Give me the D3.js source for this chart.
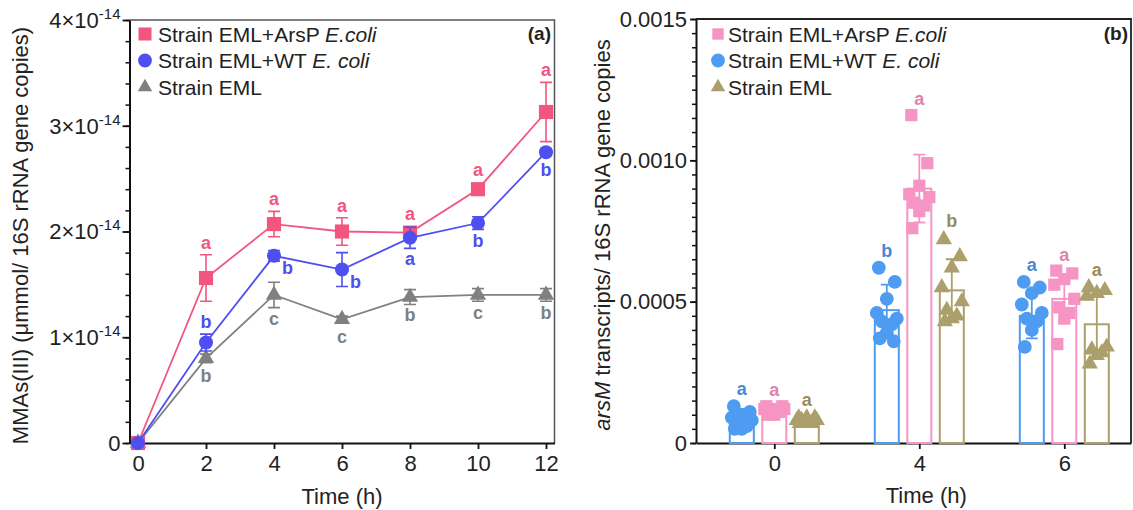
<!DOCTYPE html>
<html><head><meta charset="utf-8">
<script src="https://cdn.jsdelivr.net/npm/d3@7"></script>
<style>body{margin:0;background:#fff} svg{display:block} text{font-family:"Liberation Sans",Arial,Helvetica,sans-serif}</style>
</head><body><svg id="c" width="1133" height="510"></svg>
<script>
// ---------- Panel (a) data (values ×1e-14) ----------
const timesA = [0, 2, 4, 6, 8, 10, 12];
const arsPMean = [0, 1.56, 2.07, 2.00, 1.99, 2.40, 3.13];
const arsPSd   = [0, 0.22, 0.12, 0.13, 0.05, 0.04, 0.28];
const arsPLetters = ["", "a", "a", "a", "a", "a", "a"];
const arsPLetterPos = ["", "above", "above", "above", "above", "above", "above"];
const wtMean = [0, 0.95, 1.77, 1.64, 1.94, 2.08, 2.75];
const wtSd   = [0, 0.08, 0.05, 0.16, 0.10, 0.06, 0.03];
const wtLetters = ["", "b", "b", "b", "a", "b", "b"];
const wtLetterPos = ["", "above", "right", "right", "below", "below", "below"];
const emlMean = [0, 0.80, 1.40, 1.17, 1.38, 1.40, 1.40];
const emlSd   = [0, 0.04, 0.12, 0.03, 0.07, 0.06, 0.06];
const emlLetters = ["", "b", "c", "c", "b", "c", "b"];
const emlLetterPos = ["", "below", "below", "below", "below", "below", "below"];
const yTicksA = [0, 1, 2, 3, 4];
const legendA = [["Strain EML+ArsP ", "E.coli"], ["Strain EML+WT ", "E. coli"], ["Strain EML", ""]];

// ---------- Panel (b) data ----------
const timesB = ["0", "4", "6"];
const wtPts = [
  [0.00013, 0.00011, 0.00010, 0.00009, 0.00008, 0.00007, 0.00006, 0.00005, 0.00005],
  [0.00062, 0.00057, 0.00051, 0.00046, 0.00044, 0.00043, 0.00042, 0.00039, 0.00037, 0.00036],
  [0.00057, 0.00055, 0.00053, 0.00049, 0.00046, 0.00044, 0.00043, 0.00040, 0.00034]
];
const arsPPts = [
  [0.00013, 0.00013, 0.00012, 0.00012, 0.00012, 0.00011, 0.00011, 0.00010, 0.00010],
  [0.00116, 0.00099, 0.00091, 0.00088, 0.00087, 0.00085, 0.00084, 0.00082, 0.00076],
  [0.00061, 0.00060, 0.00058, 0.00056, 0.00051, 0.00048, 0.00046, 0.00044, 0.00035]
];
const emlPts = [
  [0.00009, 0.00009, 0.00009, 0.00008, 0.00008, 0.00008, 0.00007, 0.00007, 0.00007],
  [0.00072, 0.00066, 0.00062, 0.00055, 0.00050, 0.00047, 0.00045, 0.00044, 0.00043],
  [0.00055, 0.00054, 0.00053, 0.00052, 0.00034, 0.00033, 0.00032, 0.00031, 0.00028]
];
const wtBar = [0.00008, 0.00047, 0.00045];
const arsPBar = [0.000115, 0.00090, 0.00051];
const emlBar = [0.00008, 0.00054, 0.00042];
const wtBarSd = [0.00003, 0.00009, 0.00008];
const arsPBarSd = [0.00001, 0.00012, 0.00008];
const emlBarSd = [0.00001, 0.00011, 0.00012];
const wtLettersB = ["a", "b", "a"];
const arsPLettersB = ["a", "a", "a"];
const emlLettersB = ["a", "b", "a"];
const yTicksB = [0, 0.0005, 0.0010, 0.0015];
const legendB = [["Strain EML+ArsP ", "E.coli"], ["Strain EML+WT ", "E. coli"], ["Strain EML", ""]];

const svg = d3.select("#c");
const TXT = "#222";

// ================= Panel (a) =================
const colA = {arsp: "#f2567f", wt: "#4f4ff0", eml: "#808080"};
const ax = d3.scaleLinear().domain([-0.25, 12.25]).range([129.5, 554.5]);
const ay = d3.scaleLinear().domain([0, 4]).range([443, 20]);
const gA = svg.append("g");

gA.append("path").attr("d", `M${ax.range()[0]},${ay(4)}H${ax.range()[1]}V${ay(0)}`)
  .attr("fill", "none").attr("stroke", "#555").attr("stroke-width", 1.5);

gA.append("g").attr("transform", `translate(${ax.range()[0]},0)`)
  .call(d3.axisLeft(ay).tickValues(d3.range(0, 4.001, 0.2)).tickSize(4).tickFormat("").tickSizeOuter(0))
  .call(g => g.selectAll("line").attr("stroke", "#111").attr("stroke-width", 1.5))
  .call(g => g.select(".domain").attr("stroke", "#111").attr("stroke-width", 2));
gA.append("g").attr("transform", `translate(${ax.range()[0]},0)`)
  .call(d3.axisLeft(ay).tickValues(yTicksA).tickSize(7).tickFormat("").tickSizeOuter(0))
  .call(g => g.selectAll("line").attr("stroke", "#111").attr("stroke-width", 1.8))
  .call(g => g.select(".domain").remove());
yTicksA.forEach(v => {
  const t = gA.append("text").attr("x", ax.range()[0] - 9).attr("y", ay(v)).attr("dy", "0.36em")
    .attr("text-anchor", "end").attr("font-size", 22).attr("fill", TXT);
  if (v === 0) t.text("0");
  else {
    t.append("tspan").text(v + "×10");
    t.append("tspan").attr("font-size", 15).attr("dy", -9).text("-14");
  }
});
gA.append("g").attr("transform", `translate(0,${ay(0)})`)
  .call(d3.axisBottom(ax).tickValues(timesA).tickSize(6).tickPadding(6).tickSizeOuter(0))
  .call(g => g.selectAll("line").attr("stroke", "#111").attr("stroke-width", 1.8))
  .call(g => g.select(".domain").attr("stroke", "#111").attr("stroke-width", 2))
  .call(g => g.selectAll("text").attr("font-size", 22).attr("fill", TXT).attr("font-family", '"Liberation Sans",Arial,sans-serif'));
gA.append("text").attr("x", ax(6)).attr("y", 504).attr("text-anchor", "middle")
  .attr("font-size", 22).attr("fill", TXT).text("Time (h)");
gA.append("text").attr("transform", `translate(28,${(ay(0) + ay(4)) / 2 + 4}) rotate(-90)`)
  .attr("text-anchor", "middle").attr("font-size", 22).attr("fill", TXT)
  .text("MMAs(III) (μmmol/ 16S rRNA gene copies)");
gA.append("text").attr("x", 551).attr("y", 40).attr("text-anchor", "end")
  .attr("font-size", 19).attr("font-weight", "bold").attr("fill", TXT).text("(a)");

const seriesA = [
  {key: "eml", mean: emlMean, sd: emlSd, letters: emlLetters, pos: emlLetterPos, sym: d3.symbolTriangle, size: 115},
  {key: "arsp", mean: arsPMean, sd: arsPSd, letters: arsPLetters, pos: arsPLetterPos, sym: d3.symbolSquare, size: 200},
  {key: "wt", mean: wtMean, sd: wtSd, letters: wtLetters, pos: wtLetterPos, sym: d3.symbolCircle, size: 155}
];
const line = d3.line().x(d => ax(d[0])).y(d => ay(d[1]));
seriesA.forEach(s => {
  const c = colA[s.key];
  const g = gA.append("g");
  g.append("path").attr("d", line(timesA.map((t, i) => [t, s.mean[i]])))
    .attr("fill", "none").attr("stroke", c).attr("stroke-width", 1.8);
  timesA.forEach((t, i) => {
    if (s.sd[i] > 0) {
      const x = ax(t), y1 = ay(s.mean[i] + s.sd[i]), y2 = ay(s.mean[i] - s.sd[i]);
      g.append("path").attr("d", `M${x},${y1}V${y2}M${x - 6},${y1}H${x + 6}M${x - 6},${y2}H${x + 6}`)
        .attr("stroke", c).attr("stroke-width", 1.6).attr("fill", "none");
    }
  });
  g.selectAll(".m").data(timesA).join("path")
    .attr("transform", (t, i) => `translate(${ax(t)},${ay(s.mean[i])})`)
    .attr("d", d3.symbol(s.sym, s.size)).attr("fill", c);
  timesA.forEach((t, i) => {
    if (!s.letters[i]) return;
    const x = ax(t), y = ay(s.mean[i]);
    let tx = x, ty, anchor = "middle";
    if (s.pos[i] === "above") ty = Math.min(ay(s.mean[i] + s.sd[i]), y - 7) - 6;
    else if (s.pos[i] === "below") ty = Math.max(ay(s.mean[i] - s.sd[i]), y + 7) + 17;
    else { tx = x + 8; ty = y + 18; anchor = "start"; }
    g.append("text").attr("x", tx).attr("y", ty).attr("text-anchor", anchor)
      .attr("font-size", 18).attr("font-weight", "bold").attr("fill", c).text(s.letters[i]);
  });
});
const legSymA = [[d3.symbolSquare, 170, colA.arsp], [d3.symbolCircle, 150, colA.wt], [d3.symbolTriangle, 90, colA.eml]];
legendA.forEach((l, i) => {
  const y = 34 + i * 26.5;
  gA.append("path").attr("transform", `translate(145,${y})`).attr("d", d3.symbol(legSymA[i][0], legSymA[i][1])).attr("fill", legSymA[i][2]);
  const t = gA.append("text").attr("x", 158).attr("y", y + 7.5).attr("font-size", 21).attr("fill", TXT);
  t.append("tspan").text(l[0]);
  if (l[1]) t.append("tspan").attr("font-style", "italic").text(l[1]);
});

// ================= Panel (b) =================
const colB = {arsp: "#f695c3", wt: "#4d9cf2", eml: "#ab9f6c"};
const bx = d3.scaleLinear().domain([-0.54, 2.46]).range([696, 1131]);
const by = d3.scaleLinear().domain([0, 0.0015]).range([443, 19]);
const sub = d3.scaleBand().domain(["wt", "arsp", "eml"]).range([-45.5, 45.5]).paddingInner(0.2).paddingOuter(0);
const gB = svg.append("g");
gB.append("path").attr("d", `M${bx.range()[0]},${by(0.0015)}H${bx.range()[1]}V${by(0)}`)
  .attr("fill", "none").attr("stroke", "#222").attr("stroke-width", 1.8);
gB.append("g").attr("transform", `translate(${bx.range()[0]},0)`)
  .call(d3.axisLeft(by).tickValues(d3.range(0, 0.0015001, 0.00005)).tickSize(4).tickFormat("").tickSizeOuter(0))
  .call(g => g.selectAll("line").attr("stroke", "#111").attr("stroke-width", 1.5))
  .call(g => g.select(".domain").attr("stroke", "#111").attr("stroke-width", 2));
gB.append("g").attr("transform", `translate(${bx.range()[0]},0)`)
  .call(d3.axisLeft(by).tickValues(yTicksB).tickSize(6).tickPadding(3).tickSizeOuter(0)
    .tickFormat(d => d === 0 ? "0" : d.toFixed(4)))
  .call(g => g.selectAll("line").attr("stroke", "#111").attr("stroke-width", 1.8))
  .call(g => g.select(".domain").remove())
  .call(g => g.selectAll("text").attr("font-size", 22).attr("fill", TXT).attr("font-family", '"Liberation Sans",Arial,sans-serif'));
gB.append("g").attr("transform", `translate(0,${by(0)})`)
  .call(d3.axisBottom(bx).tickValues([0, 1, 2]).tickFormat(i => timesB[i]).tickSize(6).tickPadding(6).tickSizeOuter(0))
  .call(g => g.selectAll("line").attr("stroke", "#111").attr("stroke-width", 1.8))
  .call(g => g.select(".domain").attr("stroke", "#111").attr("stroke-width", 2))
  .call(g => g.selectAll("text").attr("font-size", 22).attr("fill", TXT).attr("font-family", '"Liberation Sans",Arial,sans-serif'));
gB.append("text").attr("x", bx(1) + 7).attr("y", 503).attr("text-anchor", "middle")
  .attr("font-size", 22).attr("fill", TXT).text("Time (h)");
const yl = gB.append("text").attr("transform", `translate(610,${(by(0) + by(0.0015)) / 2 + 4}) rotate(-90)`)
  .attr("text-anchor", "middle").attr("font-size", 22).attr("fill", TXT);
yl.append("tspan").attr("font-style", "italic").text("arsM");
yl.append("tspan").text(" transcripts/ 16S rRNA gene copies");
gB.append("text").attr("x", 1128).attr("y", 40).attr("text-anchor", "end")
  .attr("font-size", 19).attr("font-weight", "bold").attr("fill", TXT).text("(b)");

const jitter = [-8, 8, 0, -10, 10, -5, 5, 0, -7, 7];
const seriesB = [
  {key: "wt", pts: wtPts, bar: wtBar, sd: wtBarSd, letters: wtLettersB, sym: d3.symbolCircle, size: 150, half: 7},
  {key: "arsp", pts: arsPPts, bar: arsPBar, sd: arsPBarSd, letters: arsPLettersB, sym: d3.symbolSquare, size: 150, half: 6},
  {key: "eml", pts: emlPts, bar: emlBar, sd: emlBarSd, letters: emlLettersB, sym: d3.symbolTriangle, size: 115, half: 8}
];
seriesB.forEach(s => {
  const c = colB[s.key];
  const g = gB.append("g");
  const bw = sub.bandwidth();
  s.bar.forEach((m, i) => {
    const cx = bx(i) + sub(s.key) + bw / 2;
    g.append("rect").attr("x", cx - bw / 2 + 1).attr("y", by(m)).attr("width", bw - 2).attr("height", by(0) - by(m))
      .attr("fill", "#fff").attr("stroke", c).attr("stroke-width", 2);
  });
  s.pts.forEach((arr, i) => {
    const cx = bx(i) + sub(s.key) + bw / 2;
    g.selectAll(null).data(arr).join("path")
      .attr("transform", (v, j) => `translate(${cx + jitter[j % jitter.length]},${by(v)})`)
      .attr("d", d3.symbol(s.sym, s.size)).attr("fill", c);
  });
  s.bar.forEach((m, i) => {
    const cx = bx(i) + sub(s.key) + bw / 2;
    const y1 = by(m + s.sd[i]), y2 = by(Math.max(0, m - s.sd[i]));
    g.append("path").attr("d", `M${cx},${y1}V${y2}M${cx - 6},${y1}H${cx + 6}M${cx - 6},${y2}H${cx + 6}`)
      .attr("stroke", c).attr("stroke-width", 1.8).attr("fill", "none");
    const top = Math.min(by(d3.max(s.pts[i])) - s.half, y1);
    g.append("text").attr("x", cx).attr("y", top - 4).attr("text-anchor", "middle")
      .attr("font-size", 18).attr("font-weight", "bold").attr("fill", d3.color(c).darker(0.35)).text(s.letters[i]);
  });
});
const legSymB = [[d3.symbolSquare, 130, colB.arsp], [d3.symbolCircle, 150, colB.wt], [d3.symbolTriangle, 90, colB.eml]];
legendB.forEach((l, i) => {
  const y = 34 + i * 26.5;
  gB.append("path").attr("transform", `translate(718,${y})`).attr("d", d3.symbol(legSymB[i][0], legSymB[i][1])).attr("fill", legSymB[i][2]);
  const t = gB.append("text").attr("x", 728).attr("y", y + 7.5).attr("font-size", 21).attr("fill", TXT);
  t.append("tspan").text(l[0]);
  if (l[1]) t.append("tspan").attr("font-style", "italic").text(l[1]);
});
</script></body></html>
